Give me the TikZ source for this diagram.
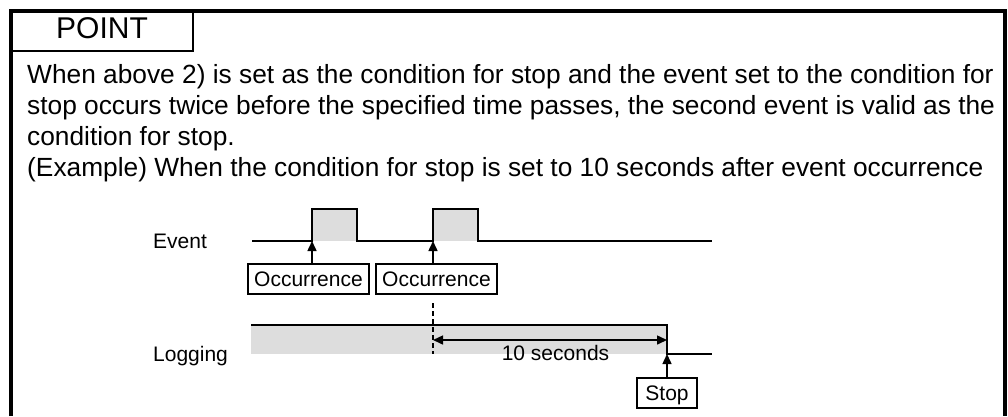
\documentclass[tikz,border=0pt]{standalone}
\usepackage{fontspec}
\setmainfont{Liberation Sans}
\usetikzlibrary{arrows.meta, positioning, calc}
\definecolor{wavegray}{RGB}{221,221,221}

\begin{document}
\begin{tikzpicture}[
  x=1pt, y=-1pt,
  body/.style={anchor=base west, inner sep=0pt, font=\fontsize{26.3}{31}\selectfont},
  lbl/.style={inner sep=0pt, font=\fontsize{21}{25}\selectfont},
  tag/.style={
    draw, line width=1.3pt, minimum height=30pt, inner sep=0pt,
    text height=15pt, text depth=0pt, font=\fontsize{21}{25}\selectfont
  },
  wave/.style={line width=1.5pt},
  arrow/.style={-{Triangle[length=10pt, width=9pt]}, line width=1.5pt}
]
  \useasboundingbox (0,0) rectangle (1008,416);

  % Rahmen und Kopf
  \draw[line width=4pt, line join=miter] (11,416) -- (11,11) -- (1005,11) -- (1005,416);
  \node[draw, line width=1.5pt, minimum width=182pt, minimum height=40pt, inner sep=0pt,
    text height=21.5pt, text depth=7pt, font=\fontsize{30}{36}\selectfont] (point) at (102,31) {POINT};

  % Text
  \node[body] (line1) at (27,83) {When above 2) is set as the condition for stop and the event set to the condition for};
  \node[body] (line2) at (27,114) {stop occurs twice before the specified time passes, the second event is valid as the};
  \node[body] (line3) at (27,145) {condition for stop.};
  \node[body] (line4) at (27,176) {(Example) When the condition for stop is set to 10 seconds after event occurrence};

  % Signalnamen
  \node[lbl, anchor=base west] (event) at (153,248.5) {Event};
  \node[lbl, anchor=base west] (logging) at (153,361) {Logging};

  % Punkte der Signale
  \coordinate (evstart) at (252,241);
  \coordinate (rise1) at (312,241);
  \coordinate (fall1) at (357,241);
  \coordinate (rise2) at (433,241);
  \coordinate (fall2) at (478,241);
  \coordinate (evend) at (712,241);
  \coordinate (logstart) at (251,325);
  \coordinate (stoppt) at (667,354);
  \coordinate (logend) at (712,354);
  \coordinate (marktop) at (433,303);
  \coordinate (spanstart) at (433,340);
  \coordinate (spanend) at (667,340);

  % Flaechen
  \fill[wavegray] (rise1) rectangle ($(fall1)+(0,-32)$);
  \fill[wavegray] (rise2) rectangle ($(fall2)+(0,-32)$);
  \fill[wavegray] (logstart) rectangle (stoppt);

  % Signale
  \draw[wave] (evstart) -- (rise1) -- ++(0,-32) -| (fall1) -- (rise2) -- ++(0,-32) -| (fall2) -- (evend);
  \draw[wave] (logstart) -| (stoppt) -- (logend);

  % Marken
  \node[tag, minimum width=121pt] (occ1) at (308.5,279) {Occurrence};
  \node[tag, minimum width=121pt] (occ2) at (436.5,279) {Occurrence};
  \node[tag, minimum width=60pt] (stop) at (667,393) {Stop};

  \draw[arrow] (occ1.north -| rise1) -- (rise1);
  \draw[arrow] (occ2.north -| rise2) -- (rise2);
  \draw[arrow] (stop.north) -- (stoppt);

  % Zeitspanne
  \draw[wave, dash pattern=on 5pt off 3pt] (marktop) -- (marktop |- stoppt);
  \draw[wave, {Triangle[length=10pt, width=9pt]}-{Triangle[length=10pt, width=9pt]}] (spanstart) -- (spanend);
  \node[lbl, anchor=base] (tensec) at (555.5,360) {10 seconds};

\end{tikzpicture}
\end{document}
